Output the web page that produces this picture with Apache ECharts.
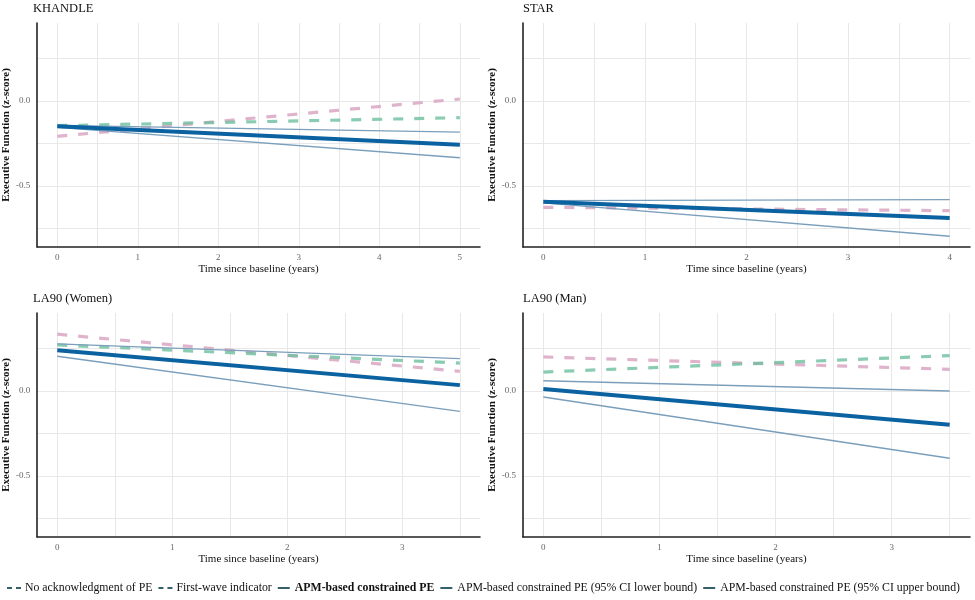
<!DOCTYPE html>
<html>
<head>
<meta charset="utf-8">
<script src="https://cdn.jsdelivr.net/npm/echarts@6/dist/echarts.min.js"></script>
<style>html,body{margin:0;padding:0;background:#fff}#c{width:975px;height:600px}</style>
</head>
<body>
<div id="c"></div>
<script>
// ---- data ----
const panelTitles = ['KHANDLE', 'STAR', 'LA90 (Women)', 'LA90 (Man)'];
const seriesNames = ['No acknowledgment of PE', 'First-wave indicator', 'APM-based constrained PE',
  'APM-based constrained PE (95% CI lower bound)', 'APM-based constrained PE (95% CI upper bound)'];

const khandleTime = [0, 5];
const khandleNoAck = [-0.208, 0.012];
const khandleFirstWave = [-0.145, -0.098];
const khandleAPM = [-0.149, -0.258];
const khandleLower = [-0.155, -0.334];
const khandleUpper = [-0.143, -0.183];

const starTime = [0, 4];
const starNoAck = [-0.626, -0.646];
const starFirstWave = [null, null];
const starAPM = [-0.594, -0.689];
const starLower = [-0.600, -0.797];
const starUpper = [-0.587, -0.581];

const womenTime = [0, 3.5];
const womenNoAck = [0.335, 0.116];
const womenFirstWave = [0.272, 0.165];
const womenAPM = [0.240, 0.035];
const womenLower = [0.205, -0.120];
const womenUpper = [0.278, 0.191];

const manTime = [0, 3.5];
const manNoAck = [0.201, 0.128];
const manFirstWave = [0.112, 0.209];
const manAPM = [0.012, -0.199];
const manLower = [-0.035, -0.396];
const manUpper = [0.061, 0.000];

const xTicksKhandle = [0, 1, 2, 3, 4, 5];
const xTicksStar = [0, 1, 2, 3, 4];
const xTicksLA = [0, 1, 2, 3];
const yTickLabels = [-0.5, 0.0];
const yGridValues = [-0.75, -0.5, -0.25, 0, 0.25];

// ---- build ----
const panels = [
  {time: khandleTime, vals: [khandleNoAck, khandleFirstWave, khandleAPM, khandleLower, khandleUpper], xmax: 5, xt: xTicksKhandle},
  {time: starTime, vals: [starNoAck, starFirstWave, starAPM, starLower, starUpper], xmax: 4, xt: xTicksStar},
  {time: womenTime, vals: [womenNoAck, womenFirstWave, womenAPM, womenLower, womenUpper], xmax: 3.5, xt: xTicksLA},
  {time: manTime, vals: [manNoAck, manFirstWave, manAPM, manLower, manUpper], xmax: 3.5, xt: xTicksLA}
];
const gridPos = [
  {left: 33, top: 23}, {left: 523, top: 23}, {left: 33, top: 313}, {left: 523, top: 313}
];
const FONT = '"Liberation Serif", "DejaVu Serif", serif';
const gridColor = '#e8e8e8';
const styles = [
  {color: '#d9a6c2', width: 3.2, type: [10, 11], opacity: 0.85, z: 2},
  {color: '#6dbf9d', width: 3.2, type: [10, 11], opacity: 0.8, z: 3},
  {color: '#0b62a0', width: 4, type: 'solid', opacity: 1, z: 5},
  {color: '#7a9fbc', width: 1.4, type: 'solid', opacity: 1, z: 4},
  {color: '#7a9fbc', width: 1.4, type: 'solid', opacity: 1, z: 4}
];

const grids = [], xAxes = [], yAxes = [], series = [], titles = [];
panels.forEach((p, i) => {
  grids.push({left: gridPos[i].left, top: gridPos[i].top, width: 447, height: 224});
  const pad = p.xmax * 0.05;
  const xGrid = [];
  for (let v = 0; v <= p.xmax + 1e-9; v += 0.5) xGrid.push(v);
  xAxes.push({
    type: 'value', gridIndex: i, min: -pad, max: p.xmax + pad,
    name: 'Time since baseline (years)', nameLocation: 'middle', nameGap: 17,
    nameTextStyle: {fontFamily: FONT, fontSize: 11, color: '#111'},
    axisLine: {show: true, onZero: false, lineStyle: {color: '#222', width: 1.6}},
    axisTick: {show: false, customValues: xGrid},
    axisLabel: {customValues: p.xt, fontFamily: FONT, fontSize: 9, color: '#666', margin: 6},
    splitLine: {show: true, lineStyle: {color: gridColor, width: 1}}
  });
  yAxes.push({
    type: 'value', gridIndex: i, min: -0.86, max: 0.46,
    name: 'Executive Function (z-score)', nameLocation: 'middle', nameGap: 18,
    nameTextStyle: {fontFamily: FONT, fontSize: 11, fontWeight: 'bold', color: '#111'},
    axisLine: {show: true, onZero: false, lineStyle: {color: '#222', width: 1.6}},
    axisTick: {show: false, customValues: yGridValues},
    axisLabel: {customValues: yTickLabels, fontFamily: FONT, fontSize: 9, color: '#666', margin: 7,
      formatter: v => v.toFixed(1)},
    splitLine: {show: true, lineStyle: {color: gridColor, width: 1}}
  });
  titles.push({text: panelTitles[i], left: gridPos[i].left, top: gridPos[i].top - 21, padding: 0,
    textStyle: {fontFamily: FONT, fontSize: 12.5, fontWeight: 'normal', color: '#111'}});
  seriesNames.forEach((nm, k) => {
    const s = styles[k];
    series.push({
      type: 'line', name: nm, xAxisIndex: i, yAxisIndex: i, showSymbol: false, symbol: 'none',
      z: s.z, silent: true, animation: false,
      lineStyle: {color: s.color, width: s.width, type: s.type, opacity: s.opacity, cap: 'butt'},
      itemStyle: {color: s.color},
      data: p.time.map((t, j) => [t, p.vals[k][j]])
    });
  });
});

const dashIcon = 'path://M0,0h5v2h-5z M9,0h5v2h-5z';
const solidIcon = 'path://M0,0h12v2h-12z';
const legendColor = '#34606c';
const legend = {
  top: 582, left: 7, width: 975, padding: 0, itemGap: 6, itemWidth: 14, itemHeight: 2,
  textStyle: {fontFamily: FONT, fontSize: 11.8, color: '#111', padding: [0, 0, 0, -1]},
  data: seriesNames.map((nm, k) => ({
    name: nm, icon: k < 2 ? dashIcon : solidIcon,
    itemStyle: {color: legendColor}, lineStyle: {color: legendColor},
    textStyle: k === 2 ? {fontWeight: 'bold'} : undefined
  }))
};

const chart = echarts.init(document.getElementById('c'), null, {renderer: 'canvas'});
chart.setOption({
  animation: false, backgroundColor: '#fff',
  title: titles, grid: grids, xAxis: xAxes, yAxis: yAxes, series: series, legend: legend
});
</script>
</body>
</html>
